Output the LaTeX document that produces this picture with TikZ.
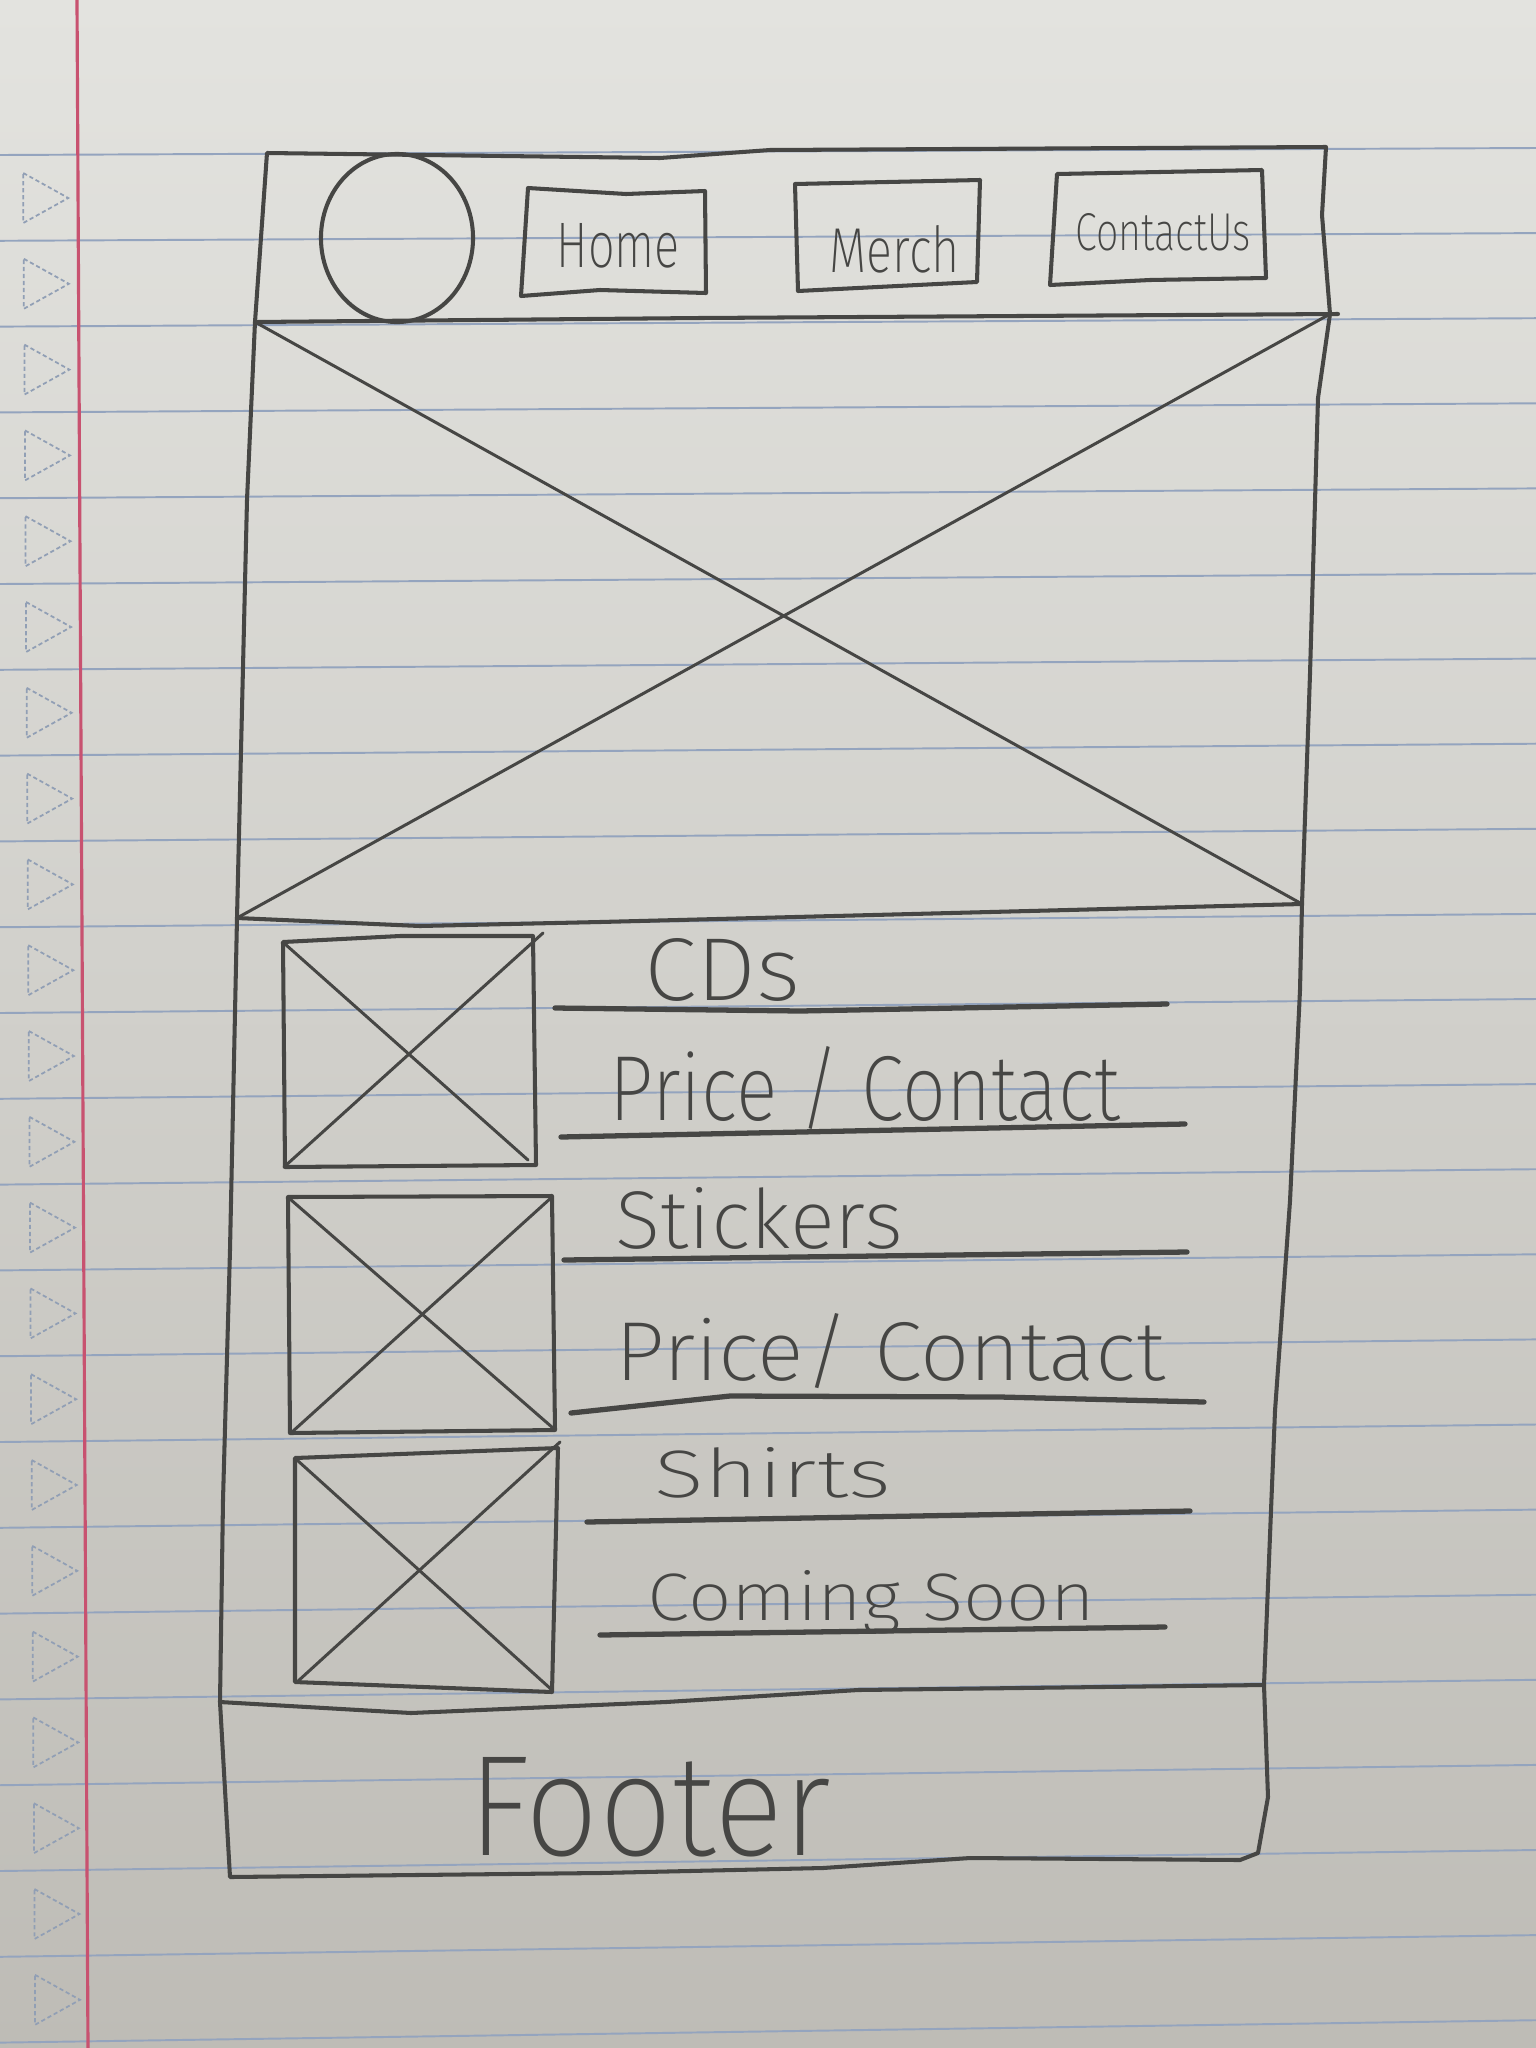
\documentclass[tikz,border=0pt]{standalone}
\usepackage{fontspec}
\setmainfont{Fira Sans}[UprightFont={* ExtraLight}]
\usepackage{graphicx}
\usetikzlibrary{positioning}

\definecolor{pencil}{RGB}{70,70,68}
\definecolor{ruling}{RGB}{148,164,190}
\definecolor{margin}{RGB}{200,82,112}
\definecolor{papertop}{RGB}{227,227,223}
\definecolor{paperbot}{RGB}{190,188,182}

\newcommand{\handfit}[3]{\resizebox{#1}{#2}{#3}}

\tikzset{
  pen/.style={draw=pencil, line width=1.15pt, line join=round, line cap=round},
  thinpen/.style={pen, line width=0.85pt},
  underpen/.style={pen, line width=1.5pt},
  ruleline/.style={draw=ruling, line width=0.55pt},
  marginline/.style={draw=margin, line width=0.9pt},
  holemark/.style={draw=ruling!85!gray, line width=0.5pt, dash pattern=on 1.2pt off 0.8pt},
  hand/.style={inner sep=0pt, anchor=base west, text=pencil}
}

\begin{document}
\begin{tikzpicture}[x=0.01cm, y=-0.01cm]
\useasboundingbox (0,0) rectangle (1536,2048);
% notebook paper
\fill[top color=papertop, bottom color=paperbot] (0,0) rectangle (1536,2048);
\foreach \k in {0,...,22} {
  \pgfmathsetmacro{\yl}{155+85.8*\k}
  \pgfmathsetmacro{\yr}{\yl-7-0.7*\k}
  \draw[ruleline] (0,\yl) -- (1536,\yr);
}
\foreach \k in {0,...,21} {
  \pgfmathsetmacro{\yc}{155+85.8*\k+43}
  \pgfmathsetmacro{\xl}{22+0.0065*\yc}
  \draw[holemark] (\xl,\yc-25) -- (\xl+45,\yc) -- (\xl,\yc+25) -- cycle;
}
\draw[marginline] (77,0) -- (88,2048);

% frame corners
\coordinate (frameNW) at (267,153);
\coordinate (frameNE) at (1326,147);
\coordinate (headSW) at (255,322);
\coordinate (headSE) at (1330,314);
\coordinate (heroSW) at (237,918);
\coordinate (heroSE) at (1302,904);
\coordinate (listSW) at (220,1702);
\coordinate (listSE) at (1264,1685);
\coordinate (footSW) at (230,1877);
\coordinate (footSE) at (1258,1853);

% outline
\draw[pen] (frameNW) -- (660,158) -- (770,150) -- (frameNE) -- (1322,215) -- (headSE)
  -- (1318,398) -- (1310,674) -- (heroSE) -- (1300,990) -- (1290,1201) -- (1275,1411)
  -- (listSE) -- (1268,1797) -- (footSE) -- (1240,1860) -- (970,1858) -- (823,1868)
  -- (600,1873) -- (footSW) -- (listSW) -- (223,1500) -- (230,1250) -- (heroSW)
  -- (247,500) -- (headSW) -- cycle;
\draw[pen] (headSW) -- (700,318) -- (1338,314);
\draw[pen] (heroSW) -- (420,926) -- (600,922) -- (heroSE);
\draw[pen] (listSW) -- (411,1713) -- (666,1702) -- (858,1690) -- (listSE);

% hero image
\draw[thinpen] (headSW) -- (heroSE);
\draw[thinpen] (headSE) -- (heroSW);

% header
\draw[pen] (397,238) ellipse [x radius=0.76cm, y radius=0.84cm];
\draw[pen] (528,188) -- (626,194) -- (705,191) -- (706,293) -- (600,290) -- (521,296) -- cycle;
\draw[pen] (795,184) -- (980,180) -- (977,282) -- (798,291) -- cycle;
\draw[pen] (1057,174) -- (1262,170) -- (1266,278) -- (1150,280) -- (1050,285) -- cycle;
\node[hand] (homeLabel) at (556,267) {\handfit{1.23cm}{0.44cm}{Home}};
\node[hand] (merchLabel) at (829,272) {\handfit{1.30cm}{0.47cm}{Merch}};
\node[hand] (contactLabel) at (1075,250) {\handfit{1.75cm}{0.37cm}{ContactUs}};

% merch list
\draw[pen] (283,942) -- (400,936) -- (533,936) -- (536,1165) -- (285,1167) -- cycle;
\draw[thinpen] (285,944) -- (528,1160);
\draw[thinpen] (284,1167) -- (543,933);
\draw[pen] (288,1197) -- (552,1196) -- (555,1430) -- (290,1433) -- cycle;
\draw[thinpen] (290,1199) -- (553,1428);
\draw[thinpen] (292,1432) -- (552,1197);
\draw[pen] (295,1458) -- (558,1448) -- (552,1692) -- (295,1682) -- cycle;
\draw[thinpen] (297,1460) -- (552,1690);
\draw[thinpen] (297,1682) -- (560,1442);

\node[hand] (cdsLabel) at (644,1000) {\handfit{1.56cm}{0.62cm}{CDs}};
\draw[underpen] (555,1008) -- (800,1011) -- (1167,1004);
\node[hand] (cdsPrice) at (609,1120) {\handfit{5.10cm}{0.74cm}{Price / Contact}};
\draw[underpen] (561,1137) -- (1185,1124);
\node[hand] (stickerLabel) at (615,1248) {\handfit{2.87cm}{0.61cm}{Stickers}};
\draw[underpen] (564,1260) -- (1187,1252);
\node[hand] (stickerPrice) at (615,1380) {\handfit{5.49cm}{0.67cm}{Price/ Contact}};
\draw[underpen] (571,1413) -- (730,1396) -- (1000,1397) -- (1204,1402);
\node[hand] (shirtLabel) at (654,1497) {\handfit{2.36cm}{0.50cm}{Shirts}};
\draw[underpen] (587,1522) -- (1190,1511);
\node[hand] (shirtSoon) at (647,1620) {\handfit{4.47cm}{0.50cm}{Coming Soon}};
\draw[underpen] (600,1635) -- (1165,1627);

% footer
\node[hand] (footerLabel) at (468,1855) {\handfit{3.62cm}{0.98cm}{Footer}};
\end{tikzpicture}
\end{document}
